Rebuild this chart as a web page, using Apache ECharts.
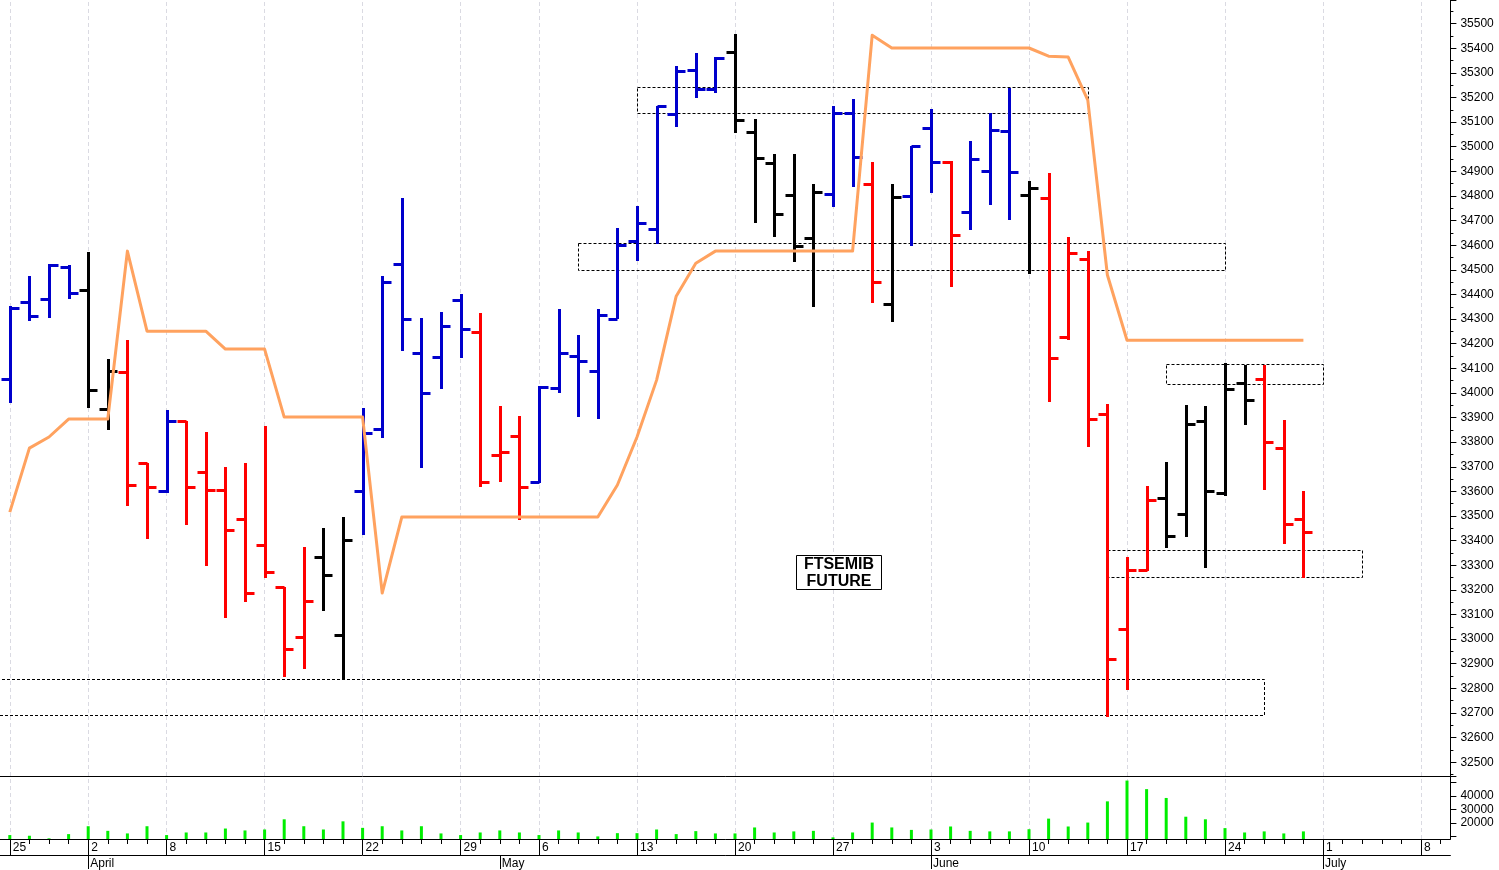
<!DOCTYPE html>
<html><head><meta charset="utf-8">
<script src="https://cdn.jsdelivr.net/npm/echarts@6/dist/echarts.min.js"></script>
<style>html,body{margin:0;padding:0;background:#fff;}#c{width:1499px;height:870px;}</style>
</head><body><div id="c"></div>
<script>
// ---------- data ----------
const dates = ['2024-03-25','2024-03-26','2024-03-27','2024-03-28','2024-04-02','2024-04-03','2024-04-04','2024-04-05',
'2024-04-08','2024-04-09','2024-04-10','2024-04-11','2024-04-12','2024-04-15','2024-04-16','2024-04-17','2024-04-18','2024-04-19',
'2024-04-22','2024-04-23','2024-04-24','2024-04-25','2024-04-26','2024-04-29','2024-04-30','2024-05-02','2024-05-03',
'2024-05-06','2024-05-07','2024-05-08','2024-05-09','2024-05-10','2024-05-13','2024-05-14','2024-05-15','2024-05-16','2024-05-17',
'2024-05-20','2024-05-21','2024-05-22','2024-05-23','2024-05-24','2024-05-27','2024-05-28','2024-05-29','2024-05-30','2024-05-31',
'2024-06-03','2024-06-04','2024-06-05','2024-06-06','2024-06-07','2024-06-10','2024-06-11','2024-06-12','2024-06-13','2024-06-14',
'2024-06-17','2024-06-18','2024-06-19','2024-06-20','2024-06-21','2024-06-24','2024-06-25','2024-06-26','2024-06-27','2024-06-28',
'2024-07-01','2024-07-02','2024-07-03','2024-07-04','2024-07-05','2024-07-08','2024-07-09'];

const opens  = [34056,34369,34381,34511,34418,33934,34085,33715,33601,33885,33678,33605,33487,33382,33211,33008,33333,33016,
33601,33853,34523,34162,34146,34377,34247,33747,33824,33638,34020,34150,34089,34300,34617,34665,35132,35311,35234,
35384,35059,34933,34803,34629,34807,35136,34848,34361,34799,35076,34937,34734,34901,35063,34803,34791,34227,34544,
33914,33041,33280,33573,33507,33885,33593,34040,34056,33776,33487];
const highs  = [34353,34474,34523,34519,34573,34137,34214,33715,33930,33885,33841,33699,33715,33865,33211,33374,33451,33496,
33938,34474,34791,34304,34328,34401,34324,33946,33906,34028,34340,34235,34340,34669,34759,35165,35327,35380,35364,
35457,35112,34970,34970,34848,35165,35193,34937,34848,35002,35153,34941,35023,35136,35238,34860,34893,34633,34576,
33954,33333,33622,33719,33950,33946,34121,34113,34113,33890,33601];
const lows   = [33959,34294,34304,34381,33938,33849,33540,33406,33593,33463,33297,33085,33150,33248,32846,32878,33114,32834,
33422,33817,34170,33695,34016,34142,33618,33638,33483,33634,33999,33902,33894,34300,34535,34604,35080,35197,35218,
35055,34690,34633,34531,34349,34755,34836,34365,34288,34596,34812,34430,34661,34763,34702,34483,33963,34214,33780,
32683,32793,33276,33370,33414,33288,33581,33869,33605,33386,33248];
const closes = [34344,34314,34519,34405,34012,34089,33626,33618,33885,33618,33605,33443,33187,33272,32959,33154,33260,33402,
33836,34450,34300,33999,34271,34259,33638,33760,33618,34024,34162,34129,34316,34600,34690,35165,35307,35234,35360,
35108,34954,34726,34596,34815,35136,34958,34450,34795,35002,34937,34641,34950,35067,34897,34832,34142,34568,33894,
32919,33280,33565,33418,33873,33601,34016,33971,33800,33467,33434];
// bar state: 1 = up (blue), -1 = down (red), 0 = neutral (black)
const barState = [1,1,1,1,0,0,-1,-1,1,-1,-1,-1,-1,-1,-1,-1,0,0,
1,1,1,1,1,1,-1,-1,-1,1,1,1,1,1,1,1,1,1,1,
0,0,0,0,0,1,1,-1,0,1,1,-1,1,1,1,0,-1,-1,-1,
-1,-1,-1,0,0,0,0,0,-1,-1,-1];
const volumes = [11100,10600,8700,11800,17600,14200,12300,17600,11100,13000,13000,15900,14500,15200,22700,17600,15200,21200,
16400,17600,14500,17600,12300,11100,13000,14500,13000,11100,14500,13000,10100,12500,12500,15200,11800,14000,12300,
12300,16700,13000,13800,14200,9400,13000,20300,16700,14900,15200,17400,14200,13800,13800,15400,23200,17400,20300,
35900,51200,44900,38400,24600,22700,16200,13000,13800,12300,13800];
const trailLine = [33516,33776,33821,33894,33894,33894,34576,34251,34251,34251,34251,34178,34178,34178,
33902,33902,33902,33902,33902,33187,33496,33496,33496,33496,33496,33496,33496,33496,33496,33496,33496,
33626,33821,34052,34393,34527,34576,34576,34576,34576,34576,34576,34576,34576,35453,35401,35401,35401,
35401,35401,35401,35401,35401,35368,35364,35189,34479,34214,34214,34214,34214,34214,34214,34214,34214,34214,34214];
// dashed zones
const boxFrom = ['2024-05-13','2024-05-08','2024-06-19','2024-06-14', null];
const boxTo   = ['2024-06-13','2024-06-24','2024-07-01','2024-07-03','2024-06-26'];
const boxLow  = [35135,34500,34036,33251,32691];
const boxHigh = [35241,34607,34116,33361,32836];
const monthNames = ['January','February','March','April','May','June','July','August','September','October','November','December'];
const volumeLabelsShown = [20000,30000,40000];

// ---------- helpers ----------
const FONT = 'Liberation Sans, Arial, Helvetica, sans-serif';
const dayOf = i => new Date(dates[i] + 'T00:00:00Z').getUTCDay();
const isWeekStart = i => i === 0 || dayOf(i) <= dayOf(i - 1);
const isMonthStart = i => i > 0 && dates[i].slice(5, 7) !== dates[i - 1].slice(5, 7);
const weekIdx = dates.map((d, i) => i).filter(isWeekStart);
const COLORS = {'1': '#0000cc', '-1': '#ff0000', '0': '#000000'};

const ohlcData = opens.map((o, i) => [i, o, highs[i], lows[i], closes[i]]);
const boxData = boxTo.map((t, k) => [boxFrom[k] === null ? -1 : dates.indexOf(boxFrom[k]), dates.indexOf(t), boxLow[k], boxHigh[k]]);

const gridLineMark = {
  silent: true, symbol: ['none', 'none'], animation: false, z: 0,
  label: {show: false},
  lineStyle: {color: '#dadae2', type: [4, 3], width: 1},
  emphasis: {disabled: true},
  data: weekIdx.map(i => ({xAxis: dates[i]}))
};

const chart = echarts.init(document.getElementById('c'), null, {renderer: 'canvas'});
chart.setOption({
  animation: false,
  backgroundColor: '#ffffff',
  grid: [
    {left: 0, top: 0, width: 1450.4, height: 776},
    {left: 0, top: 776, width: 1450.4, height: 64}
  ],
  xAxis: [
    {type: 'category', gridIndex: 0, data: dates, boundaryGap: true,
     axisLine: {show: true, lineStyle: {color: '#000', width: 1}}, axisTick: {show: false},
     axisLabel: {show: false}, splitLine: {show: false}},
    {type: 'category', gridIndex: 1, data: dates, position: 'bottom', boundaryGap: true,
     axisLine: {show: true, lineStyle: {color: '#000', width: 1}},
     axisTick: {show: true, alignWithLabel: true, interval: 0, length: 5, lineStyle: {color: '#000'}},
     axisLabel: {show: false}, splitLine: {show: false}},
    {type: 'category', gridIndex: 1, data: dates, position: 'bottom', boundaryGap: true,
     axisLine: {show: false},
     axisTick: {show: true, alignWithLabel: true, interval: i => isWeekStart(i), length: 16, lineStyle: {color: '#000'}},
     axisLabel: {show: true, interval: i => isWeekStart(i), formatter: v => String(+v.slice(8, 10)),
                 align: 'left', margin: 3, padding: [0, 0, 0, 3], color: '#000', fontSize: 12, fontFamily: FONT},
     splitLine: {show: false}},
    {type: 'category', gridIndex: 1, data: dates, position: 'bottom', offset: 16, boundaryGap: true,
     axisLine: {show: true, lineStyle: {color: '#000', width: 1}},
     axisTick: {show: true, alignWithLabel: true, interval: i => isMonthStart(i), length: 14, lineStyle: {color: '#000'}},
     axisLabel: {show: true, interval: i => isMonthStart(i), formatter: v => monthNames[+v.slice(5, 7) - 1],
                 align: 'left', margin: 3, padding: [0, 0, 0, 2], color: '#000', fontSize: 12, fontFamily: FONT},
     splitLine: {show: false}}
  ],
  yAxis: [
    {type: 'value', gridIndex: 0, position: 'right', min: 32444, max: 35596, splitNumber: 31,
     axisLine: {show: true, lineStyle: {color: '#000', width: 1}},
     axisTick: {show: true, length: 6, lineStyle: {color: '#000'}},
     minorTick: {show: true, splitNumber: 2, length: 3, lineStyle: {color: '#000'}},
     axisLabel: {margin: 10, showMinLabel: false, showMaxLabel: false, color: '#000', fontSize: 12, fontFamily: FONT,
                 formatter: v => String(Math.round(v))},
     splitLine: {show: false}, minorSplitLine: {show: false}},
    {type: 'value', gridIndex: 1, position: 'right', min: 8200, max: 54560, splitNumber: 5,
     axisLine: {show: true, lineStyle: {color: '#000', width: 1}},
     axisTick: {show: true, length: 6, lineStyle: {color: '#000'}},
     axisLabel: {margin: 10, showMinLabel: false, showMaxLabel: false, color: '#000', fontSize: 12, fontFamily: FONT,
                 formatter: v => volumeLabelsShown.indexOf(v) >= 0 ? String(v) : ''},
     splitLine: {show: false}}
  ],
  series: [
    {type: 'custom', name: 'zones', xAxisIndex: 0, yAxisIndex: 0, z: 1, silent: true,
     data: boxData, encode: {x: [0, 1], y: [2, 3]},
     markLine: gridLineMark,
     renderItem: function (params, api) {
       const f = api.value(0), t = api.value(1);
       const pTop = api.coord([Math.max(f, 0), api.value(3)]);
       const pBot = api.coord([t, api.value(2)]);
       const x0 = f < 0 ? params.coordSys.x - 3 : Math.round(pTop[0]) + 0.5;
       const x1 = Math.round(pBot[0]) + 0.5;
       const y0 = Math.round(pTop[1]) + 0.5, y1 = Math.round(pBot[1]) + 0.5;
       return {type: 'rect', shape: {x: x0, y: y0, width: x1 - x0, height: y1 - y0},
               style: {fill: 'none', stroke: '#000', lineWidth: 1, lineDash: [3, 2]}};
     }},
    {type: 'custom', name: 'FTSEMIB', xAxisIndex: 0, yAxisIndex: 0, z: 3,
     data: ohlcData, encode: {x: 0, y: [1, 2, 3, 4]},
     renderItem: function (params, api) {
       const i = api.value(0);
       const color = COLORS[String(barState[params.dataIndex])];
       const o = api.coord([i, api.value(1)]);
       const h = api.coord([i, api.value(2)]);
       const l = api.coord([i, api.value(3)]);
       const c = api.coord([i, api.value(4)]);
       const x = Math.round(o[0]) + 0.5;
       const st = {stroke: color, lineWidth: 3};
       const yo = Math.round(o[1]) + 0.5, yc = Math.round(c[1]) + 0.5;
       return {type: 'group', children: [
         {type: 'line', shape: {x1: x, y1: Math.round(h[1]), x2: x, y2: Math.round(l[1])}, style: st},
         {type: 'line', shape: {x1: x - 9, y1: yo, x2: x, y2: yo}, style: st},
         {type: 'line', shape: {x1: x, y1: yc, x2: x + 9, y2: yc}, style: st}
       ]};
     }},
    {type: 'line', name: 'trail', xAxisIndex: 0, yAxisIndex: 0, z: 4, data: trailLine,
     symbol: 'none', showSymbol: false, silent: true,
     lineStyle: {color: '#ffa25f', width: 3, join: 'round'}},
    {type: 'bar', name: 'volume', xAxisIndex: 1, yAxisIndex: 1, data: volumes, barWidth: 3, clip: true, z: 3,
     itemStyle: {color: '#00ee00'}, silent: true, markLine: gridLineMark}
  ],
  graphic: [
    {type: 'rect', shape: {x: 796.5, y: 555.5, width: 85, height: 34}, style: {fill: '#fff', stroke: '#000', lineWidth: 1}, z: 10},
    {type: 'text', x: 839, y: 565, z: 11, style: {text: 'FTSEMIB', font: 'bold 16px ' + FONT, fill: '#000', align: 'center', verticalAlign: 'middle'}},
    {type: 'text', x: 839, y: 582, z: 11, style: {text: 'FUTURE', font: 'bold 16px ' + FONT, fill: '#000', align: 'center', verticalAlign: 'middle'}}
  ]
});
</script>
</body></html>
